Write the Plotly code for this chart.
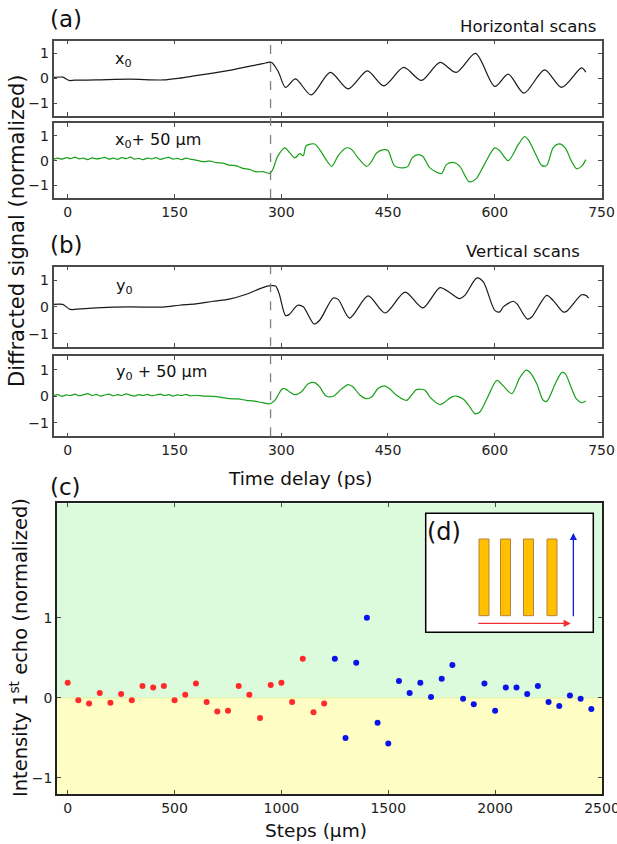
import plotly.graph_objects as go

W, H = 617, 844

# ---- panel (a): horizontal scans ----
t_x0 = [-20, -7, 2, 10, 40, 87, 134, 157, 180, 204, 227, 251, 274, 286, 296,
        306, 320, 342, 369, 394, 421, 444, 472, 497, 523, 546, 573, 600, 619,
        641, 670, 694, 722, 728]
sig_x0 = [0.03, 0.04, -0.09, -0.08, -0.07, -0.04, -0.07, 0.0, 0.1, 0.2, 0.31,
          0.45, 0.58, 0.64, 0.25, -0.37, -0.03, -0.67, 0.23, -0.43, 0.29, -0.31,
          0.43, -0.09, 0.63, 0.23, 0.99, -0.33, 0.16, -0.6, 0.33, -0.37, 0.41,
          0.24]

t_x50 = [-20, -14, -8, -2, 4, 10, 16, 22, 28, 34, 40, 46, 52, 58, 64, 70, 76,
         82, 88, 94, 100, 106, 112, 118, 124, 130, 136, 142, 148, 154, 160, 166,
         172, 180, 190, 200, 209, 218, 227, 236, 246, 255, 265, 274, 284, 288,
         295, 305, 312, 319, 326, 331, 335, 347, 354, 363, 371, 380, 391, 398,
         408, 420, 427, 434, 444, 450, 459, 471, 478, 484, 492, 499, 509, 525,
         532, 542, 551, 564, 574, 584, 600, 607, 619, 633, 642, 647, 659, 666,
         673, 682, 691, 699, 708, 715, 722, 728]
sig_x50 = [0.05, 0.1, 0.06, 0.12, 0.08, 0.14, 0.07, 0.1, 0.04, 0.11, 0.07, 0.09,
           0.13, 0.06, 0.1, 0.05, 0.12, 0.08, 0.14, 0.06, 0.09, 0.04, 0.1, 0.07,
           0.12, 0.05, 0.1, 0.13, 0.06, 0.09, 0.04, 0.1, 0.06, 0.02, -0.04,
           -0.02, -0.08, -0.1, -0.18, -0.2, -0.31, -0.35, -0.45, -0.44, -0.51,
           -0.36, 0.17, 0.51, 0.31, 0.11, 0.28, 0.2, 0.6, 0.67, 0.44, 0.04,
           -0.23, 0.2, 0.51, 0.47, 0.11, -0.23, -0.03, 0.31, 0.44, 0.41, -0.2,
           -0.29, -0.23, 0.11, 0.24, 0.17, -0.29, -0.52, -0.16, -0.07, -0.23,
           -0.85, -0.72, -0.23, 0.51, 0.4, 0.0, 0.64, 0.97, 0.84, 0.17, -0.19,
           -0.19, 0.51, 0.67, 0.51, -0.03, -0.32, -0.23, 0.04]

# ---- panel (b): vertical scans ----
t_y0 = [-20, -7, 2, 6, 40, 87, 134, 157, 180, 204, 227, 251, 274, 285, 292,
        297, 306, 311, 323, 331, 346, 354, 373, 380, 396, 422, 446, 474, 499,
        523, 537, 550, 558, 575, 584, 600, 607, 612, 626, 631, 646, 652, 673,
        682, 696, 701, 722, 728, 732]
sig_y0 = [0.09, 0.09, -0.08, -0.1, -0.04, 0.0, -0.01, 0.06, 0.11, 0.21, 0.29,
          0.47, 0.72, 0.79, 0.78, 0.5, -0.32, -0.29, 0.06, 0.0, -0.64, -0.5,
          0.33, 0.28, -0.42, 0.41, -0.23, 0.55, -0.04, 0.72, 0.53, 0.31, 0.43,
          1.08, 0.93, -0.13, -0.19, 0.0, 0.21, 0.12, -0.46, -0.38, 0.43, 0.24,
          -0.19, -0.17, 0.45, 0.43, 0.33]

t_y50 = [-20, -14, -8, -2, 4, 10, 16, 22, 28, 34, 40, 46, 52, 58, 64, 70, 76,
         82, 88, 94, 100, 106, 112, 118, 124, 130, 136, 142, 148, 154, 160, 166,
         172, 180, 190, 204, 216, 227, 239, 251, 262, 274, 284, 291, 298, 302,
         307, 312, 319, 328, 338, 347, 354, 363, 373, 384, 394, 401, 410, 420,
         427, 436, 445, 452, 462, 476, 483, 490, 502, 509, 523, 530, 539, 546,
         556, 565, 572, 579, 589, 603, 612, 624, 635, 644, 649, 659, 668, 673,
         685, 694, 699, 708, 715, 722, 728]
sig_y50 = [0.02, 0.06, 0.0, 0.05, 0.03, 0.08, 0.02, 0.06, 0.1, 0.03, 0.07, 0.01,
           0.05, 0.08, 0.02, 0.06, 0.03, 0.09, 0.04, 0.01, 0.06, 0.03, 0.07,
           0.02, 0.05, 0.08, 0.03, 0.06, 0.01, 0.05, 0.03, 0.07, 0.02, 0.04,
           0.01, 0.0, -0.04, -0.09, -0.1, -0.15, -0.18, -0.24, -0.28, -0.15,
           0.16, 0.29, 0.26, 0.16, 0.06, 0.16, 0.47, 0.51, 0.35, 0.01, 0.0,
           0.26, 0.44, 0.35, 0.06, -0.09, -0.03, 0.29, 0.39, 0.29, 0.04, -0.15,
           0.04, 0.25, 0.23, -0.03, -0.31, -0.21, -0.03, 0.01, -0.11, -0.4,
           -0.65, -0.59, -0.09, 0.6, 0.39, 0.1, 0.69, 0.98, 0.91, 0.47, -0.15,
           -0.19, 0.47, 0.89, 0.85, 0.29, -0.11, -0.24, -0.18]

# ---- panel (c): first echo intensity vs position ----
steps_h = [0, 50, 100, 150, 200, 250, 300, 350, 400, 450, 500, 550, 600, 650,
           700, 750, 800, 850, 900, 950, 1000, 1050, 1100, 1150, 1200]
echo_h = [0.19, -0.03, -0.07, 0.06, -0.06, 0.05, -0.03, 0.15, 0.13, 0.15,
          -0.03, 0.04, 0.18, -0.05, -0.17, -0.16, 0.15, 0.04, -0.25, 0.16,
          0.19, -0.05, 0.49, -0.18, -0.07]
steps_v = [1250, 1300, 1350, 1400, 1450, 1500, 1550, 1600, 1650, 1700, 1750,
           1800, 1850, 1900, 1950, 2000, 2050, 2100, 2150, 2200, 2250, 2300,
           2350, 2400, 2450]
echo_v = [0.49, -0.50, 0.44, 1.0, -0.31, -0.57, 0.21, 0.06, 0.19, 0.01, 0.24,
          0.41, -0.01, -0.08, 0.18, -0.16, 0.13, 0.13, 0.05, 0.15, -0.05, -0.1,
          0.03, -0.01, -0.14]

time_ticks = [0, 150, 300, 450, 600, 750]
step_ticks = [0, 500, 1000, 1500, 2000, 2500]
onset = 285

FONT = "DejaVu Sans"
BLACK = "#1a1a1a"
GREEN = "#18a018"


def px(x, y):
    return x / W, 1 - y / H


def ydom(top, bottom):
    return [1 - bottom / H, 1 - top / H]


fig = go.Figure()
traces = [(t_x0, sig_x0, BLACK, "x", "y"), (t_x50, sig_x50, GREEN, "x2", "y2"),
          (t_y0, sig_y0, BLACK, "x3", "y3"), (t_y50, sig_y50, GREEN, "x4", "y4")]
for t, s, c, xa, ya in traces:
    fig.add_trace(go.Scatter(x=t, y=s, mode="lines", xaxis=xa, yaxis=ya,
                             line=dict(color=c, width=1.2, shape="spline", smoothing=0.8),
                             showlegend=False))

fig.add_trace(go.Scatter(x=steps_h, y=echo_h, mode="markers", xaxis="x5", yaxis="y5",
                         marker=dict(color="#ff2a2a", size=6), showlegend=False))
fig.add_trace(go.Scatter(x=steps_v, y=echo_v, mode="markers", xaxis="x5", yaxis="y5",
                         marker=dict(color="#0a14e6", size=6), showlegend=False))

ax = dict(showline=True, mirror="ticks", linecolor="#4a4a4a", linewidth=1.5,
          ticks="inside", ticklen=4, tickcolor="#4a4a4a", showgrid=False,
          zeroline=False, automargin=False,
          tickfont=dict(family=FONT, size=14, color="#222"))
xd = [53.5 / W, 601.5 / W]
# autoexpand off: the 750 / 2500 labels at the right edge must not push the margin
lay = dict(width=W, height=H, margin=dict(l=0, r=0, t=0, b=0, autoexpand=False),
           autosize=False, plot_bgcolor="white", paper_bgcolor="white",
           showlegend=False)
doms = [ydom(40.7, 115.7), ydom(123.3, 198), ydom(266.7, 347), ydom(356.3, 436.3)]
for i, d in enumerate(doms, start=1):
    sfx = "" if i == 1 else str(i)
    lay["xaxis" + sfx] = dict(ax, domain=xd, anchor="y" + sfx, range=[-20, 750],
                              tickvals=time_ticks, showticklabels=(i in (2, 4)),
                              ticklabeloverflow="allow")
    lay["yaxis" + sfx] = dict(ax, domain=d, anchor="x" + sfx, range=[-1.5, 1.5],
                              tickvals=[-1, 0, 1])
lay["xaxis5"] = dict(ax, domain=[57 / W, 602 / W], anchor="y5", range=[-50, 2500],
                     tickvals=step_ticks, linecolor="#222", ticklabeloverflow="allow")
lay["yaxis5"] = dict(ax, domain=ydom(503.3, 794), anchor="x5", range=[-1.2, 2.43],
                     tickvals=[-1, 0, 1], linecolor="#222")
fig.update_layout(**lay)

shapes = [
    dict(type="rect", xref="x5", yref="y5", x0=-50, x1=2500, y0=0, y1=2.43,
         fillcolor="#dcfadc", line_width=0, layer="below"),
    dict(type="rect", xref="x5", yref="y5", x0=-50, x1=2500, y0=-1.2, y1=0,
         fillcolor="#fdfdc4", line_width=0, layer="below"),
    dict(type="line", xref="x5", yref="y5", x0=-50, x1=2500, y0=0, y1=0,
         line=dict(color="#e4f0a0", width=1), layer="below"),
]
for xa, top, bot in [("x", 40.7, 198), ("x3", 266.7, 436.3)]:
    shapes.append(dict(type="line", xref=xa, yref="paper", x0=onset, x1=onset,
                       y0=1 - bot / H, y1=1 - top / H,
                       line=dict(color="#808080", width=1.3, dash="dash")))

# inset (d): grating sketch
bx0, by0 = px(425.7, 632.3)
bx1, by1 = px(593.3, 513.3)
shapes.append(dict(type="rect", xref="paper", yref="paper", x0=bx0, y0=by0, x1=bx1, y1=by1,
                   fillcolor="white", line=dict(color="black", width=1.5)))
for left in [479, 500.5, 523.5, 547]:
    a0, b0 = px(left, 615.7)
    a1, b1 = px(left + 10, 539)
    shapes.append(dict(type="rect", xref="paper", yref="paper", x0=a0, y0=b0, x1=a1, y1=b1,
                       fillcolor="#ffc000", line=dict(color="#b9803a", width=1)))
fig.update_layout(shapes=shapes)

ann = []


def text(s, x, y, size, xanchor="left", angle=0):
    xx, yy = px(x, y)
    ann.append(dict(text=s, x=xx, y=yy, xref="paper", yref="paper", showarrow=False,
                    xanchor=xanchor, yanchor="middle", textangle=angle,
                    font=dict(family=FONT, size=size, color="#111")))


text("(a)", 48, 19, 23)
text("Horizontal scans", 598, 26, 16.5, "right")
text("(b)", 48, 245, 23)
text("Vertical scans", 582, 252, 16.5, "right")
text("x<sub>0</sub>", 113, 60, 16)
text("x<sub>0</sub>+ 50 μm", 113, 141, 16)
text("y<sub>0</sub>", 114, 287, 16)
text("y<sub>0</sub> + 50 μm", 114, 372, 16)
text("Time delay (ps)", 300, 478, 18.5, "center")
text("(c)", 48, 487, 23)
text("Steps (μm)", 316, 830, 18.5, "center")
text("Diffracted signal (normalized)", 17, 231, 21, "center", -90)
text("Intensity 1<sup>st</sup> echo (normalized)", 19, 648, 19.5, "center", -90)
text("(d)", 444, 532, 24, "center")

# scan arrows of the inset, in panel (c) data units
for (hx, hy), (tx, ty), col in [((2366, 2.06), (2366, 1.0), "#1020e0"),
                                ((2354, 0.93), (1914, 0.93), "#f03030")]:
    ann.append(dict(x=hx, y=hy, ax=tx, ay=ty, xref="x5", yref="y5", axref="x5",
                    ayref="y5", text="", showarrow=True, arrowhead=2, arrowsize=1.1,
                    arrowwidth=1.3, arrowcolor=col))
fig.update_layout(annotations=ann)

# drop the default page margin so the figure starts at the window corner
page_fix = ("document.body.style.margin='0';"
            "document.body.style.overflow='hidden';"
            "document.documentElement.style.overflow='hidden';")
fig.write_html("out.html", post_script=page_fix,
               config={"displayModeBar": False, "responsive": False})
